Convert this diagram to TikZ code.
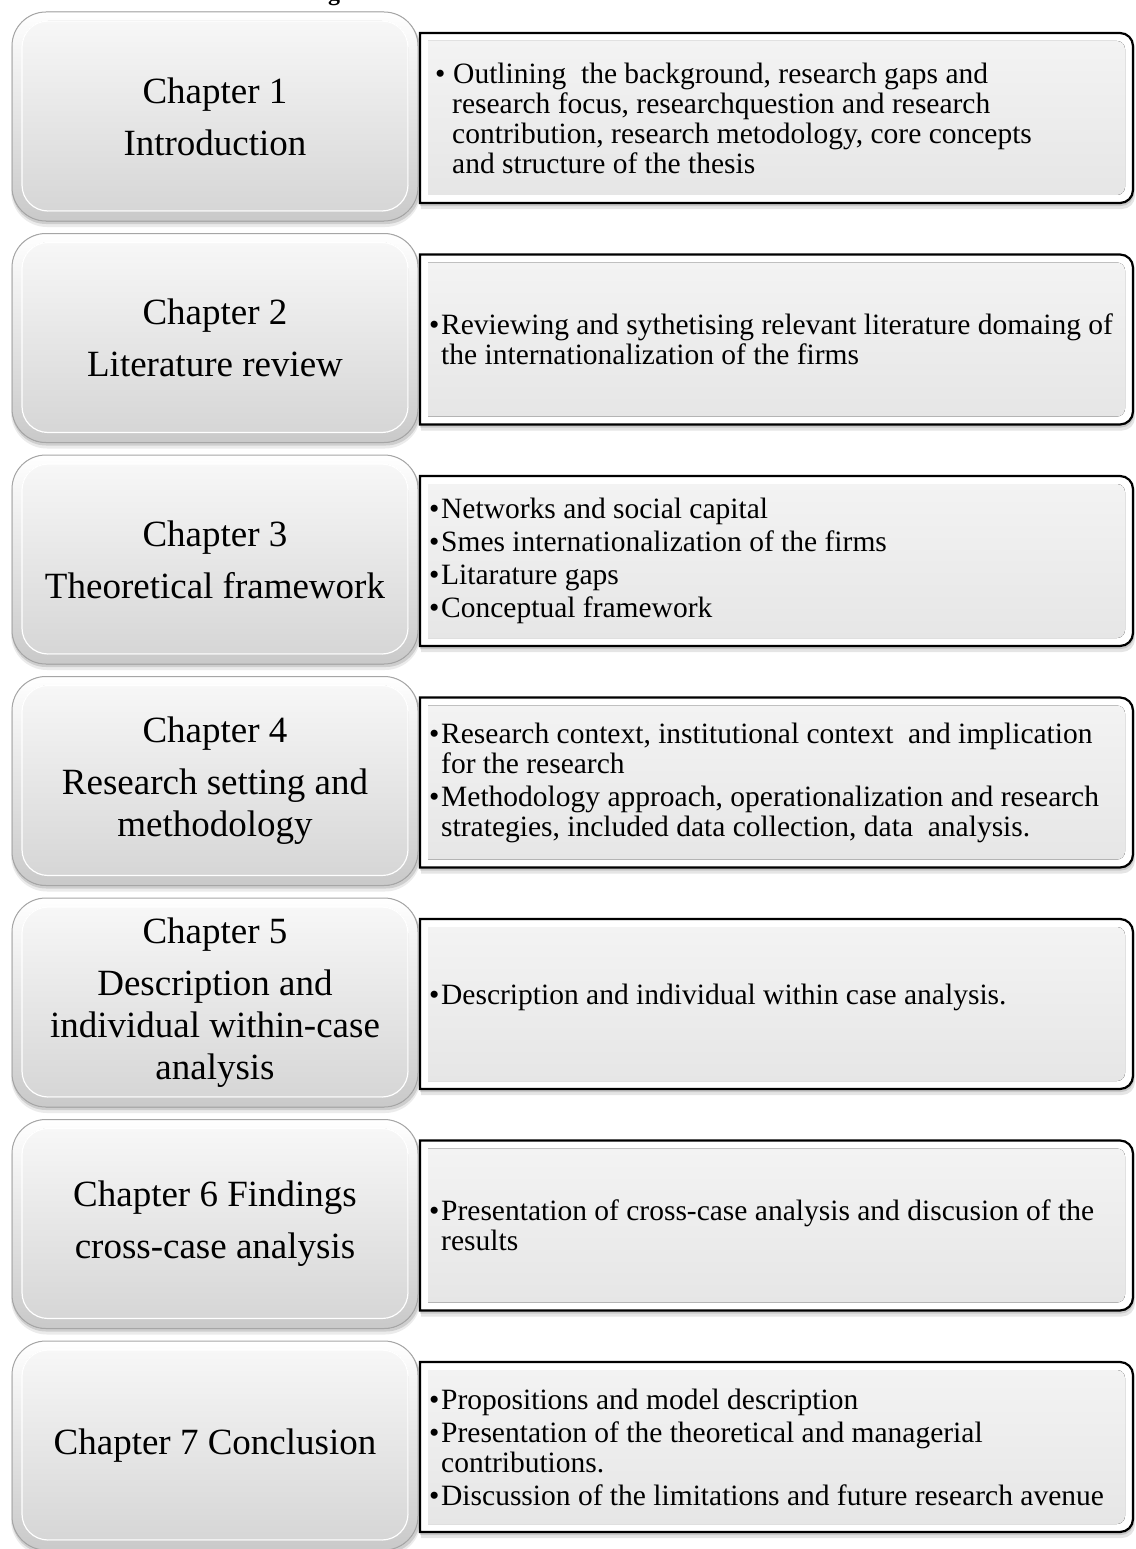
\documentclass[tikz,border=0pt]{standalone}
\usepackage{fontspec}
\setmainfont{Liberation Serif}

\definecolor{faceTop}{HTML}{F7F7F7}
\definecolor{faceBot}{HTML}{D6D6D6}
\definecolor{rimTop}{HTML}{FFFFFF}
\definecolor{rimBot}{HTML}{C9C9C9}
\definecolor{rimLine}{HTML}{A6A6A6}
\definecolor{panelTop}{HTML}{F3F3F3}
\definecolor{panelBot}{HTML}{E6E6E6}

% right-hand panel outline: square left corners, rounded right corners
% #1 left x, #2 top y, #3 right x, #4 bottom y, #5 corner radius
\newcommand\panelpath[5]{(#1,#2) -- ({#3-#5},#2)
  arc[start angle=-90,end angle=0,radius=#5] -- (#3,{#4-#5})
  arc[start angle=0,end angle=90,radius=#5] -- (#1,#4) -- cycle}

\tikzset{
  chaptext/.style={align=center, inner sep=0pt,
    font=\fontsize{37}{42}\selectfont},
  itemtext/.style={align=left, inner sep=0pt, anchor=west,
    font=\fontsize{29.5}{30}\selectfont},
}

\newcommand\bul{\makebox[12pt][l]{•}}
\newcommand\ind{\hspace*{12pt}}

% one row: #1 row number, #2 chapter label, #3 description
\newcommand\chaprow[3]{%
  \pgfmathsetmacro\rt{12+221.5*(#1-1)}%
  % description panel (behind the chapter tile)
  \fill[black,opacity=0.10] \panelpath{421}{\rt+23}{1135}{\rt+197}{13};
  \fill[black,opacity=0.12] \panelpath{420}{\rt+22}{1134}{\rt+194}{13};
  \fill[white] \panelpath{420}{\rt+21}{1133}{\rt+191}{13};
  \fill[top color=panelTop, bottom color=panelBot]
    \panelpath{428}{\rt+29}{1125}{\rt+183}{8};
  \draw[black, line width=2.2] \panelpath{420}{\rt+21}{1133}{\rt+191}{13};
  % chapter tile with bevel
  \fill[black,opacity=0.08,rounded corners=36] (11,\rt+3) rectangle (421,\rt+215);
  \fill[black,opacity=0.12,rounded corners=34] (12,\rt+2) rectangle (420,\rt+212);
  \filldraw[draw=rimLine, line width=1, top color=rimTop, bottom color=rimBot,
    rounded corners=34] (12,\rt) rectangle (418,\rt+209);
  \filldraw[draw=white, line width=1.2, top color=faceTop, bottom color=faceBot,
    rounded corners=26] (22,\rt+9) rectangle (408,\rt+199);
  \node[chaptext] (chap#1) at (215,\rt+104.5) {#2};
}

\begin{document}
\begin{tikzpicture}[x=1pt,y=-1pt]
\useasboundingbox (0,0) rectangle (1135,1549);
\fill[white] (0,0) rectangle (1135,1549);

% tail of the caption above the figure
\node[anchor=base, inner sep=0pt, font=\fontsize{24}{28}\selectfont\bfseries]
  (capg) at (334,1) {g};

\chaprow{1}{Chapter 1\\[10pt]Introduction}{}
\node[itemtext] (desc1) at (435,118) {\makebox[18pt][l]{•}Outlining\ \ the background, research gaps and\\
\hspace*{17pt}research focus, researchquestion and research\\
\hspace*{17pt}contribution, research metodology, core concepts\\
\hspace*{17pt}and structure of the thesis};

\chaprow{2}{Chapter 2\\[10pt]Literature review}{}
\node[itemtext] (desc2) at (429,339.5) {\bul Reviewing and sythetising relevant literature domaing of\\
\ind the internationalization of the firms};

\chaprow{3}{Chapter 3\\[10pt]Theoretical framework}{}
\node[itemtext] (desc3) at (429,561) {\bul Networks and social capital\\[3pt]
\bul Smes internationalization of the firms\\[3pt]
\bul Litarature gaps\\[3pt]
\bul Conceptual framework};

\chaprow{4}{Chapter 4\\[10pt]Research setting and\\methodology}{}
\node[itemtext] (desc4) at (429,782.5) {\bul Research context, institutional context\ \ and implication\\
\ind for the research\\[3pt]
\bul Methodology approach, operationalization and research\\
\ind strategies, included data collection, data\ \ analysis.};

\chaprow{5}{Chapter 5\\[10pt]Description and\\individual within-case\\analysis}{}
\node[itemtext] (desc5) at (429,997) {\bul Description and individual within case analysis.};

\chaprow{6}{Chapter 6 Findings\\[10pt]cross-case analysis}{}
\node[itemtext] (desc6) at (429,1225.5) {\bul Presentation of cross-case analysis and discusion of the\\
\ind results};

\chaprow{7}{Chapter 7 Conclusion}{}
\node[itemtext] (desc7) at (429,1447) {\bul Propositions and model description\\[3pt]
\bul Presentation of the theoretical and managerial\\
\ind contributions.\\[3pt]
\bul Discussion of the limitations and future research avenue};

\end{tikzpicture}
\end{document}
